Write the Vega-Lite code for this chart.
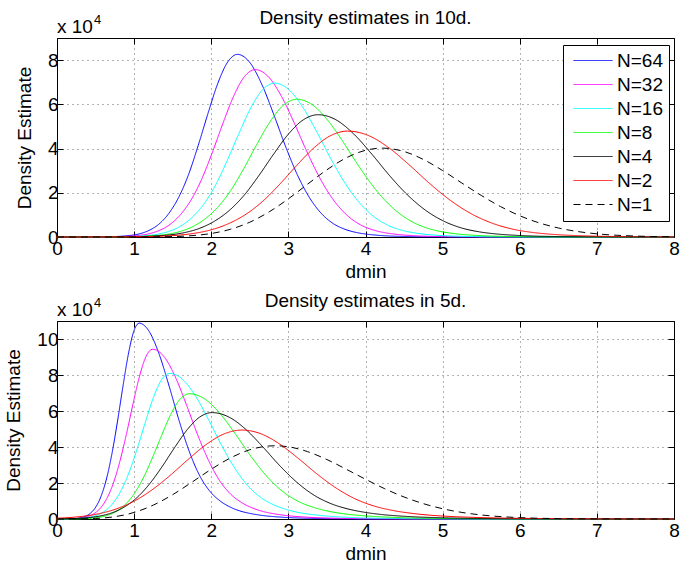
{
  "$schema": "https://vega.github.io/schema/vega-lite/v6.json",
  "background": "white",
  "padding": {"left": 4, "top": 8, "right": 0, "bottom": 0},
  "config": {
    "font": "Liberation Sans",
    "view": {"stroke": "black", "strokeWidth": 1},
    "axis": {
      "labelFont": "Liberation Sans", "labelFontSize": 19, "labelColor": "black",
      "titleFont": "Liberation Sans", "titleFontSize": 19, "titleFontWeight": "normal", "titleColor": "black",
      "domain": false, "tickColor": "black", "tickSize": -6, "tickWidth": 1, "labelPadding": 5, "labelFlush": false,
      "grid": true, "gridColor": "#000000", "gridOpacity": 0.6, "gridDash": [1, 4], "gridWidth": 1
    },
    "title": {"font": "Liberation Sans", "fontSize": 19, "fontWeight": "normal", "color": "black", "offset": -14},
    "concat": {"spacing": 9}
  },
  "datasets": {
    "d10": [
      {"n":"N=64","x":0,"y":0},{"n":"N=64","x":0.3,"y":0.002},{"n":"N=64","x":0.555,"y":0.007},{"n":"N=64","x":0.81,"y":0.029},{"n":"N=64","x":0.938,"y":0.066},{"n":"N=64","x":1.065,"y":0.14},{"n":"N=64","x":1.193,"y":0.297},{"n":"N=64","x":1.32,"y":0.578},{"n":"N=64","x":1.448,"y":1.057},{"n":"N=64","x":1.575,"y":1.776},{"n":"N=64","x":1.703,"y":2.8},{"n":"N=64","x":1.83,"y":4.13},{"n":"N=64","x":1.958,"y":5.592},{"n":"N=64","x":2.085,"y":6.947},{"n":"N=64","x":2.213,"y":7.913},{"n":"N=64","x":2.34,"y":8.26},{"n":"N=64","x":2.495,"y":7.913},{"n":"N=64","x":2.65,"y":6.947},{"n":"N=64","x":2.805,"y":5.592},{"n":"N=64","x":2.96,"y":4.13},{"n":"N=64","x":3.115,"y":2.825},{"n":"N=64","x":3.27,"y":1.801},{"n":"N=64","x":3.425,"y":1.074},{"n":"N=64","x":3.58,"y":0.611},{"n":"N=64","x":3.735,"y":0.347},{"n":"N=64","x":3.89,"y":0.198},{"n":"N=64","x":4.045,"y":0.116},{"n":"N=64","x":4.2,"y":0.066},{"n":"N=64","x":4.51,"y":0.023},{"n":"N=64","x":4.82,"y":0.008},{"n":"N=64","x":8,"y":0},
      {"n":"N=32","x":0,"y":0},{"n":"N=32","x":0.33,"y":0.002},{"n":"N=32","x":0.61,"y":0.006},{"n":"N=32","x":0.89,"y":0.026},{"n":"N=32","x":1.03,"y":0.061},{"n":"N=32","x":1.17,"y":0.129},{"n":"N=32","x":1.31,"y":0.273},{"n":"N=32","x":1.45,"y":0.53},{"n":"N=32","x":1.59,"y":0.969},{"n":"N=32","x":1.73,"y":1.628},{"n":"N=32","x":1.87,"y":2.566},{"n":"N=32","x":2.01,"y":3.785},{"n":"N=32","x":2.15,"y":5.125},{"n":"N=32","x":2.29,"y":6.366},{"n":"N=32","x":2.43,"y":7.252},{"n":"N=32","x":2.57,"y":7.57},{"n":"N=32","x":2.74,"y":7.252},{"n":"N=32","x":2.91,"y":6.366},{"n":"N=32","x":3.08,"y":5.125},{"n":"N=32","x":3.25,"y":3.785},{"n":"N=32","x":3.42,"y":2.589},{"n":"N=32","x":3.59,"y":1.65},{"n":"N=32","x":3.76,"y":0.984},{"n":"N=32","x":3.93,"y":0.56},{"n":"N=32","x":4.1,"y":0.318},{"n":"N=32","x":4.27,"y":0.182},{"n":"N=32","x":4.44,"y":0.106},{"n":"N=32","x":4.61,"y":0.061},{"n":"N=32","x":4.95,"y":0.021},{"n":"N=32","x":5.29,"y":0.008},{"n":"N=32","x":8,"y":0},
      {"n":"N=16","x":0,"y":0},{"n":"N=16","x":0.38,"y":0.001},{"n":"N=16","x":0.685,"y":0.006},{"n":"N=16","x":0.99,"y":0.024},{"n":"N=16","x":1.143,"y":0.056},{"n":"N=16","x":1.295,"y":0.118},{"n":"N=16","x":1.448,"y":0.251},{"n":"N=16","x":1.6,"y":0.487},{"n":"N=16","x":1.753,"y":0.891},{"n":"N=16","x":1.905,"y":1.496},{"n":"N=16","x":2.058,"y":2.359},{"n":"N=16","x":2.21,"y":3.48},{"n":"N=16","x":2.363,"y":4.712},{"n":"N=16","x":2.515,"y":5.853},{"n":"N=16","x":2.668,"y":6.668},{"n":"N=16","x":2.82,"y":6.96},{"n":"N=16","x":3.005,"y":6.668},{"n":"N=16","x":3.19,"y":5.853},{"n":"N=16","x":3.375,"y":4.712},{"n":"N=16","x":3.56,"y":3.48},{"n":"N=16","x":3.745,"y":2.38},{"n":"N=16","x":3.93,"y":1.517},{"n":"N=16","x":4.115,"y":0.905},{"n":"N=16","x":4.3,"y":0.515},{"n":"N=16","x":4.485,"y":0.292},{"n":"N=16","x":4.67,"y":0.167},{"n":"N=16","x":4.855,"y":0.097},{"n":"N=16","x":5.04,"y":0.056},{"n":"N=16","x":5.41,"y":0.019},{"n":"N=16","x":5.78,"y":0.007},{"n":"N=16","x":8,"y":0},
      {"n":"N=8","x":0,"y":0},{"n":"N=8","x":0.37,"y":0.001},{"n":"N=8","x":0.713,"y":0.005},{"n":"N=8","x":1.055,"y":0.022},{"n":"N=8","x":1.226,"y":0.05},{"n":"N=8","x":1.398,"y":0.106},{"n":"N=8","x":1.569,"y":0.224},{"n":"N=8","x":1.74,"y":0.436},{"n":"N=8","x":1.911,"y":0.797},{"n":"N=8","x":2.083,"y":1.339},{"n":"N=8","x":2.254,"y":2.112},{"n":"N=8","x":2.425,"y":3.115},{"n":"N=8","x":2.596,"y":4.218},{"n":"N=8","x":2.768,"y":5.239},{"n":"N=8","x":2.939,"y":5.968},{"n":"N=8","x":3.11,"y":6.23},{"n":"N=8","x":3.315,"y":5.968},{"n":"N=8","x":3.52,"y":5.239},{"n":"N=8","x":3.725,"y":4.218},{"n":"N=8","x":3.93,"y":3.115},{"n":"N=8","x":4.135,"y":2.131},{"n":"N=8","x":4.34,"y":1.358},{"n":"N=8","x":4.545,"y":0.81},{"n":"N=8","x":4.75,"y":0.461},{"n":"N=8","x":4.955,"y":0.262},{"n":"N=8","x":5.16,"y":0.15},{"n":"N=8","x":5.365,"y":0.087},{"n":"N=8","x":5.57,"y":0.05},{"n":"N=8","x":5.98,"y":0.017},{"n":"N=8","x":6.39,"y":0.006},{"n":"N=8","x":8,"y":0},
      {"n":"N=4","x":0,"y":0},{"n":"N=4","x":0.305,"y":0.001},{"n":"N=4","x":0.69,"y":0.004},{"n":"N=4","x":1.075,"y":0.019},{"n":"N=4","x":1.268,"y":0.044},{"n":"N=4","x":1.46,"y":0.094},{"n":"N=4","x":1.653,"y":0.199},{"n":"N=4","x":1.845,"y":0.387},{"n":"N=4","x":2.038,"y":0.708},{"n":"N=4","x":2.23,"y":1.189},{"n":"N=4","x":2.423,"y":1.875},{"n":"N=4","x":2.615,"y":2.765},{"n":"N=4","x":2.808,"y":3.744},{"n":"N=4","x":3.0,"y":4.651},{"n":"N=4","x":3.193,"y":5.298},{"n":"N=4","x":3.385,"y":5.53},{"n":"N=4","x":3.618,"y":5.298},{"n":"N=4","x":3.85,"y":4.651},{"n":"N=4","x":4.083,"y":3.744},{"n":"N=4","x":4.315,"y":2.765},{"n":"N=4","x":4.548,"y":1.891},{"n":"N=4","x":4.78,"y":1.206},{"n":"N=4","x":5.013,"y":0.719},{"n":"N=4","x":5.245,"y":0.409},{"n":"N=4","x":5.478,"y":0.232},{"n":"N=4","x":5.71,"y":0.133},{"n":"N=4","x":5.943,"y":0.077},{"n":"N=4","x":6.175,"y":0.044},{"n":"N=4","x":6.64,"y":0.015},{"n":"N=4","x":7.105,"y":0.006},{"n":"N=4","x":8,"y":0},
      {"n":"N=2","x":0,"y":0},{"n":"N=2","x":0.25,"y":0.001},{"n":"N=2","x":0.69,"y":0.004},{"n":"N=2","x":1.13,"y":0.017},{"n":"N=2","x":1.35,"y":0.038},{"n":"N=2","x":1.57,"y":0.081},{"n":"N=2","x":1.79,"y":0.172},{"n":"N=2","x":2.01,"y":0.335},{"n":"N=2","x":2.23,"y":0.613},{"n":"N=2","x":2.45,"y":1.03},{"n":"N=2","x":2.67,"y":1.624},{"n":"N=2","x":2.89,"y":2.395},{"n":"N=2","x":3.11,"y":3.243},{"n":"N=2","x":3.33,"y":4.028},{"n":"N=2","x":3.55,"y":4.589},{"n":"N=2","x":3.77,"y":4.79},{"n":"N=2","x":4.038,"y":4.589},{"n":"N=2","x":4.305,"y":4.028},{"n":"N=2","x":4.573,"y":3.243},{"n":"N=2","x":4.84,"y":2.395},{"n":"N=2","x":5.108,"y":1.638},{"n":"N=2","x":5.375,"y":1.044},{"n":"N=2","x":5.643,"y":0.623},{"n":"N=2","x":5.91,"y":0.354},{"n":"N=2","x":6.178,"y":0.201},{"n":"N=2","x":6.445,"y":0.115},{"n":"N=2","x":6.713,"y":0.067},{"n":"N=2","x":6.98,"y":0.038},{"n":"N=2","x":7.515,"y":0.013},{"n":"N=2","x":8,"y":0.005},
      {"n":"N=1","x":0,"y":0},{"n":"N=1","x":0.5,"y":0},{"n":"N=1","x":1.0,"y":0.001},{"n":"N=1","x":1.5,"y":0.019},{"n":"N=1","x":1.75,"y":0.061},{"n":"N=1","x":2.0,"y":0.159},{"n":"N=1","x":2.25,"y":0.351},{"n":"N=1","x":2.5,"y":0.67},{"n":"N=1","x":2.75,"y":1.135},{"n":"N=1","x":3.0,"y":1.727},{"n":"N=1","x":3.25,"y":2.391},{"n":"N=1","x":3.5,"y":3.041},{"n":"N=1","x":3.75,"y":3.579},{"n":"N=1","x":4.0,"y":3.921},{"n":"N=1","x":4.22,"y":4.02},{"n":"N=1","x":4.5,"y":3.867},{"n":"N=1","x":4.75,"y":3.507},{"n":"N=1","x":5.0,"y":3.005},{"n":"N=1","x":5.25,"y":2.44},{"n":"N=1","x":5.5,"y":1.881},{"n":"N=1","x":5.75,"y":1.378},{"n":"N=1","x":6.0,"y":0.962},{"n":"N=1","x":6.25,"y":0.641},{"n":"N=1","x":6.5,"y":0.408},{"n":"N=1","x":6.75,"y":0.248},{"n":"N=1","x":7.0,"y":0.144},{"n":"N=1","x":7.5,"y":0.043},{"n":"N=1","x":8.0,"y":0.011}
    ],
    "d5": [
      {"n":"N=64","x":0,"y":0},{"n":"N=64","x":0.085,"y":0.002},{"n":"N=64","x":0.225,"y":0.022},{"n":"N=64","x":0.295,"y":0.054},{"n":"N=64","x":0.365,"y":0.141},{"n":"N=64","x":0.435,"y":0.326},{"n":"N=64","x":0.505,"y":0.68},{"n":"N=64","x":0.575,"y":1.306},{"n":"N=64","x":0.645,"y":2.285},{"n":"N=64","x":0.715,"y":3.688},{"n":"N=64","x":0.785,"y":5.44},{"n":"N=64","x":0.855,"y":7.366},{"n":"N=64","x":0.925,"y":9.15},{"n":"N=64","x":0.995,"y":10.423},{"n":"N=64","x":1.065,"y":10.88},{"n":"N=64","x":1.195,"y":10.423},{"n":"N=64","x":1.325,"y":9.15},{"n":"N=64","x":1.455,"y":7.366},{"n":"N=64","x":1.585,"y":5.44},{"n":"N=64","x":1.715,"y":3.754},{"n":"N=64","x":1.845,"y":2.448},{"n":"N=64","x":1.975,"y":1.578},{"n":"N=64","x":2.105,"y":1.034},{"n":"N=64","x":2.235,"y":0.685},{"n":"N=64","x":2.365,"y":0.457},{"n":"N=64","x":2.495,"y":0.316},{"n":"N=64","x":2.625,"y":0.218},{"n":"N=64","x":2.885,"y":0.109},{"n":"N=64","x":3.145,"y":0.054},{"n":"N=64","x":3.665,"y":0.013},{"n":"N=64","x":4.185,"y":0.002},{"n":"N=64","x":8,"y":0},
      {"n":"N=32","x":0,"y":0},{"n":"N=32","x":0.05,"y":0.002},{"n":"N=32","x":0.22,"y":0.019},{"n":"N=32","x":0.305,"y":0.047},{"n":"N=32","x":0.39,"y":0.123},{"n":"N=32","x":0.475,"y":0.283},{"n":"N=32","x":0.56,"y":0.589},{"n":"N=32","x":0.645,"y":1.132},{"n":"N=32","x":0.73,"y":1.98},{"n":"N=32","x":0.815,"y":3.197},{"n":"N=32","x":0.9,"y":4.715},{"n":"N=32","x":0.985,"y":6.384},{"n":"N=32","x":1.07,"y":7.931},{"n":"N=32","x":1.155,"y":9.034},{"n":"N=32","x":1.24,"y":9.43},{"n":"N=32","x":1.385,"y":9.034},{"n":"N=32","x":1.53,"y":7.931},{"n":"N=32","x":1.675,"y":6.384},{"n":"N=32","x":1.82,"y":4.715},{"n":"N=32","x":1.965,"y":3.253},{"n":"N=32","x":2.11,"y":2.122},{"n":"N=32","x":2.255,"y":1.367},{"n":"N=32","x":2.4,"y":0.896},{"n":"N=32","x":2.545,"y":0.594},{"n":"N=32","x":2.69,"y":0.396},{"n":"N=32","x":2.835,"y":0.273},{"n":"N=32","x":2.98,"y":0.189},{"n":"N=32","x":3.27,"y":0.094},{"n":"N=32","x":3.56,"y":0.047},{"n":"N=32","x":4.14,"y":0.011},{"n":"N=32","x":4.72,"y":0.002},{"n":"N=32","x":8,"y":0},
      {"n":"N=16","x":0,"y":0},{"n":"N=16","x":0.025,"y":0.002},{"n":"N=16","x":0.23,"y":0.016},{"n":"N=16","x":0.333,"y":0.04},{"n":"N=16","x":0.435,"y":0.105},{"n":"N=16","x":0.538,"y":0.243},{"n":"N=16","x":0.64,"y":0.506},{"n":"N=16","x":0.743,"y":0.971},{"n":"N=16","x":0.845,"y":1.699},{"n":"N=16","x":0.948,"y":2.743},{"n":"N=16","x":1.05,"y":4.045},{"n":"N=16","x":1.153,"y":5.477},{"n":"N=16","x":1.255,"y":6.804},{"n":"N=16","x":1.358,"y":7.75},{"n":"N=16","x":1.46,"y":8.09},{"n":"N=16","x":1.63,"y":7.75},{"n":"N=16","x":1.8,"y":6.804},{"n":"N=16","x":1.97,"y":5.477},{"n":"N=16","x":2.14,"y":4.045},{"n":"N=16","x":2.31,"y":2.791},{"n":"N=16","x":2.48,"y":1.82},{"n":"N=16","x":2.65,"y":1.173},{"n":"N=16","x":2.82,"y":0.769},{"n":"N=16","x":2.99,"y":0.51},{"n":"N=16","x":3.16,"y":0.34},{"n":"N=16","x":3.33,"y":0.235},{"n":"N=16","x":3.5,"y":0.162},{"n":"N=16","x":3.84,"y":0.081},{"n":"N=16","x":4.18,"y":0.04},{"n":"N=16","x":4.86,"y":0.01},{"n":"N=16","x":5.54,"y":0.002},{"n":"N=16","x":8,"y":0},
      {"n":"N=8","x":0,"y":0},{"n":"N=8","x":0.07,"y":0.001},{"n":"N=8","x":0.305,"y":0.014},{"n":"N=8","x":0.423,"y":0.035},{"n":"N=8","x":0.54,"y":0.09},{"n":"N=8","x":0.658,"y":0.209},{"n":"N=8","x":0.775,"y":0.435},{"n":"N=8","x":0.893,"y":0.835},{"n":"N=8","x":1.01,"y":1.462},{"n":"N=8","x":1.128,"y":2.359},{"n":"N=8","x":1.245,"y":3.48},{"n":"N=8","x":1.363,"y":4.712},{"n":"N=8","x":1.48,"y":5.853},{"n":"N=8","x":1.598,"y":6.668},{"n":"N=8","x":1.715,"y":6.96},{"n":"N=8","x":1.915,"y":6.668},{"n":"N=8","x":2.115,"y":5.853},{"n":"N=8","x":2.315,"y":4.712},{"n":"N=8","x":2.515,"y":3.48},{"n":"N=8","x":2.715,"y":2.401},{"n":"N=8","x":2.915,"y":1.566},{"n":"N=8","x":3.115,"y":1.009},{"n":"N=8","x":3.315,"y":0.661},{"n":"N=8","x":3.515,"y":0.438},{"n":"N=8","x":3.715,"y":0.292},{"n":"N=8","x":3.915,"y":0.202},{"n":"N=8","x":4.115,"y":0.139},{"n":"N=8","x":4.515,"y":0.07},{"n":"N=8","x":4.915,"y":0.035},{"n":"N=8","x":5.715,"y":0.008},{"n":"N=8","x":6.515,"y":0.001},{"n":"N=8","x":8,"y":0},
      {"n":"N=4","x":0,"y":0},{"n":"N=4","x":0.09,"y":0.012},{"n":"N=4","x":0.25,"y":0.03},{"n":"N=4","x":0.41,"y":0.077},{"n":"N=4","x":0.57,"y":0.177},{"n":"N=4","x":0.73,"y":0.369},{"n":"N=4","x":0.89,"y":0.709},{"n":"N=4","x":1.05,"y":1.241},{"n":"N=4","x":1.21,"y":2.003},{"n":"N=4","x":1.37,"y":2.955},{"n":"N=4","x":1.53,"y":4.001},{"n":"N=4","x":1.69,"y":4.97},{"n":"N=4","x":1.85,"y":5.662},{"n":"N=4","x":2.01,"y":5.91},{"n":"N=4","x":2.23,"y":5.662},{"n":"N=4","x":2.45,"y":4.97},{"n":"N=4","x":2.67,"y":4.001},{"n":"N=4","x":2.89,"y":2.955},{"n":"N=4","x":3.11,"y":2.039},{"n":"N=4","x":3.33,"y":1.33},{"n":"N=4","x":3.55,"y":0.857},{"n":"N=4","x":3.77,"y":0.561},{"n":"N=4","x":3.99,"y":0.372},{"n":"N=4","x":4.21,"y":0.248},{"n":"N=4","x":4.43,"y":0.171},{"n":"N=4","x":4.65,"y":0.118},{"n":"N=4","x":5.09,"y":0.059},{"n":"N=4","x":5.53,"y":0.03},{"n":"N=4","x":6.41,"y":0.007},{"n":"N=4","x":7.29,"y":0.001},{"n":"N=4","x":8,"y":0},
      {"n":"N=2","x":0,"y":0.045},{"n":"N=2","x":0.1,"y":0.064},{"n":"N=2","x":0.33,"y":0.148},{"n":"N=2","x":0.56,"y":0.309},{"n":"N=2","x":0.79,"y":0.593},{"n":"N=2","x":1.02,"y":1.037},{"n":"N=2","x":1.25,"y":1.675},{"n":"N=2","x":1.48,"y":2.47},{"n":"N=2","x":1.71,"y":3.344},{"n":"N=2","x":1.94,"y":4.155},{"n":"N=2","x":2.17,"y":4.733},{"n":"N=2","x":2.4,"y":4.94},{"n":"N=2","x":2.645,"y":4.733},{"n":"N=2","x":2.89,"y":4.155},{"n":"N=2","x":3.135,"y":3.344},{"n":"N=2","x":3.38,"y":2.47},{"n":"N=2","x":3.625,"y":1.704},{"n":"N=2","x":3.87,"y":1.112},{"n":"N=2","x":4.115,"y":0.716},{"n":"N=2","x":4.36,"y":0.469},{"n":"N=2","x":4.605,"y":0.311},{"n":"N=2","x":4.85,"y":0.207},{"n":"N=2","x":5.095,"y":0.143},{"n":"N=2","x":5.34,"y":0.099},{"n":"N=2","x":5.83,"y":0.049},{"n":"N=2","x":6.32,"y":0.025},{"n":"N=2","x":7.3,"y":0.006},{"n":"N=2","x":8,"y":0.002},
      {"n":"N=1","x":0,"y":0},{"n":"N=1","x":0.25,"y":0.002},{"n":"N=1","x":0.5,"y":0.028},{"n":"N=1","x":0.75,"y":0.129},{"n":"N=1","x":1.0,"y":0.365},{"n":"N=1","x":1.25,"y":0.775},{"n":"N=1","x":1.5,"y":1.353},{"n":"N=1","x":1.75,"y":2.047},{"n":"N=1","x":2.0,"y":2.763},{"n":"N=1","x":2.25,"y":3.394},{"n":"N=1","x":2.5,"y":3.846},{"n":"N=1","x":2.75,"y":4.057},{"n":"N=1","x":2.83,"y":4.07},{"n":"N=1","x":3.0,"y":4.013},{"n":"N=1","x":3.25,"y":3.741},{"n":"N=1","x":3.5,"y":3.302},{"n":"N=1","x":3.75,"y":2.767},{"n":"N=1","x":4.0,"y":2.208},{"n":"N=1","x":4.25,"y":1.681},{"n":"N=1","x":4.5,"y":1.223},{"n":"N=1","x":4.75,"y":0.853},{"n":"N=1","x":5.0,"y":0.57},{"n":"N=1","x":5.25,"y":0.365},{"n":"N=1","x":5.5,"y":0.225},{"n":"N=1","x":6.0,"y":0.076},{"n":"N=1","x":6.5,"y":0.022},{"n":"N=1","x":7.0,"y":0.006},{"n":"N=1","x":8,"y":0}
    ]
  },
  "vconcat": [
    {
      "title": "Density estimates in 10d.",
      "width": 617,
      "height": 199,
      "layer": [
        {
          "data": {"name": "d10"},
          "mark": {"type": "line", "strokeWidth": 1, "interpolate": "monotone"},
          "encoding": {
            "x": {"field": "x", "type": "quantitative", "scale": {"domain": [0, 8], "nice": false, "zero": false},
                  "axis": {"orient": "bottom", "title": "dmin", "values": [0,1,2,3,4,5,6,7,8], "labelPadding": 8, "titlePadding": 4}},
            "y": {"field": "y", "type": "quantitative", "scale": {"domain": [0, 9], "nice": false},
                  "axis": {"orient": "left", "title": "Density Estimate", "values": [0,2,4,6,8], "titlePadding": 13}},
            "color": {"field": "n", "type": "nominal",
                      "scale": {"domain": ["N=64","N=32","N=16","N=8","N=4","N=2","N=1"], "range": ["#0000ff","#ff00ff","#00ffff","#00ff00","#000000","#ff0000","#000000"]},
                      "legend": {"title": null, "orient": "none", "legendX": 506, "legendY": 7, "labelFont": "Liberation Sans", "labelFontSize": 19, "labelColor": "black", "symbolType": "stroke", "symbolSize": 1521, "symbolStrokeWidth": 1, "clipHeight": 19, "rowPadding": 4, "padding": 6, "strokeColor": "black", "fillColor": "white", "labelOffset": 4, "symbolOffset": 4, "labelLimit": 0}},
            "strokeDash": {"field": "n", "type": "nominal",
                      "scale": {"domain": ["N=64","N=32","N=16","N=8","N=4","N=2","N=1"], "range": [[1,0],[1,0],[1,0],[1,0],[1,0],[1,0],[7,5]]},
                      "legend": {"title": null, "orient": "none", "legendX": 506, "legendY": 7, "labelFont": "Liberation Sans", "labelFontSize": 19, "labelColor": "black", "symbolType": "stroke", "symbolSize": 1521, "symbolStrokeWidth": 1, "clipHeight": 19, "rowPadding": 4, "padding": 6, "strokeColor": "black", "fillColor": "white", "labelOffset": 4, "symbolOffset": 4, "labelLimit": 0}}
          }
        },
        {
          "data": {"values": [{}]},
          "mark": {"type": "text", "text": "x 10", "align": "left", "baseline": "alphabetic", "dy": -5, "fontSize": 19, "font": "Liberation Sans", "color": "black"},
          "encoding": {
            "x": {"datum": 0, "type": "quantitative", "axis": {"orient": "top", "labels": false, "title": null, "grid": false, "values": [0,1,2,3,4,5,6,7,8]}},
            "y": {"datum": 9, "type": "quantitative", "axis": {"orient": "right", "labels": false, "title": null, "grid": false, "values": [0,2,4,6,8]}}
          }
        },
        {
          "data": {"values": [{}]},
          "mark": {"type": "text", "text": "4", "align": "left", "baseline": "alphabetic", "dx": 37, "dy": -14, "fontSize": 13, "font": "Liberation Sans", "color": "black"},
          "encoding": {
            "x": {"datum": 0, "type": "quantitative", "axis": null},
            "y": {"datum": 9, "type": "quantitative", "axis": null}
          }
        }
      ]
    },
    {
      "title": "Density estimates in 5d.",
      "width": 617,
      "height": 198,
      "layer": [
        {
          "data": {"name": "d5"},
          "mark": {"type": "line", "strokeWidth": 1, "interpolate": "monotone"},
          "encoding": {
            "x": {"field": "x", "type": "quantitative", "scale": {"domain": [0, 8], "nice": false, "zero": false},
                  "axis": {"orient": "bottom", "title": "dmin", "values": [0,1,2,3,4,5,6,7,8], "labelPadding": 8, "titlePadding": 4}},
            "y": {"field": "y", "type": "quantitative", "scale": {"domain": [0, 11], "nice": false},
                  "axis": {"orient": "left", "title": "Density Estimate", "values": [0,2,4,6,8,10], "titlePadding": 13}},
            "color": {"field": "n", "type": "nominal",
                      "scale": {"domain": ["N=64","N=32","N=16","N=8","N=4","N=2","N=1"], "range": ["#0000ff","#ff00ff","#00ffff","#00ff00","#000000","#ff0000","#000000"]},
                      "legend": {"title": null, "orient": "none", "legendX": 506, "legendY": 7, "labelFont": "Liberation Sans", "labelFontSize": 19, "labelColor": "black", "symbolType": "stroke", "symbolSize": 1521, "symbolStrokeWidth": 1, "clipHeight": 19, "rowPadding": 4, "padding": 6, "strokeColor": "black", "fillColor": "white", "labelOffset": 4, "symbolOffset": 4, "labelLimit": 0}},
            "strokeDash": {"field": "n", "type": "nominal",
                      "scale": {"domain": ["N=64","N=32","N=16","N=8","N=4","N=2","N=1"], "range": [[1,0],[1,0],[1,0],[1,0],[1,0],[1,0],[7,5]]},
                      "legend": {"title": null, "orient": "none", "legendX": 506, "legendY": 7, "labelFont": "Liberation Sans", "labelFontSize": 19, "labelColor": "black", "symbolType": "stroke", "symbolSize": 1521, "symbolStrokeWidth": 1, "clipHeight": 19, "rowPadding": 4, "padding": 6, "strokeColor": "black", "fillColor": "white", "labelOffset": 4, "symbolOffset": 4, "labelLimit": 0}}
          }
        },
        {
          "data": {"values": [{}]},
          "mark": {"type": "text", "text": "x 10", "align": "left", "baseline": "alphabetic", "dy": -5, "fontSize": 19, "font": "Liberation Sans", "color": "black"},
          "encoding": {
            "x": {"datum": 0, "type": "quantitative", "axis": {"orient": "top", "labels": false, "title": null, "grid": false, "values": [0,1,2,3,4,5,6,7,8]}},
            "y": {"datum": 11, "type": "quantitative", "axis": {"orient": "right", "labels": false, "title": null, "grid": false, "values": [0,2,4,6,8,10]}}
          }
        },
        {
          "data": {"values": [{}]},
          "mark": {"type": "text", "text": "4", "align": "left", "baseline": "alphabetic", "dx": 37, "dy": -14, "fontSize": 13, "font": "Liberation Sans", "color": "black"},
          "encoding": {
            "x": {"datum": 0, "type": "quantitative", "axis": null},
            "y": {"datum": 11, "type": "quantitative", "axis": null}
          }
        }
      ]
    }
  ],
  "resolve": {"scale": {"color": "shared", "strokeDash": "shared"}}
}
